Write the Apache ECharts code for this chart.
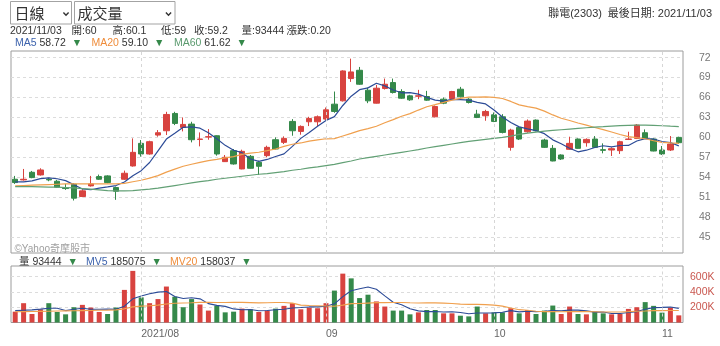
<!DOCTYPE html>
<html>
<head>
<meta charset="utf-8">
<title>聯電(2303) 日線</title>
<script src="https://cdn.jsdelivr.net/npm/echarts@6.0.0/dist/echarts.min.js"></script>
<style>
  html, body { margin: 0; padding: 0; background: #ffffff; }
  #chart { width: 720px; height: 346px; }
</style>
</head>
<body>
<div id="chart"></div>
<script>
// ---------------- DATA ----------------
const stockName = '聯電(2303)';
const periodLabel = '日線';
const panelLabel = '成交量';
const watermark = '©Yahoo奇摩股市';

const dates = [
  '2021/07/12','2021/07/13','2021/07/14','2021/07/15','2021/07/16','2021/07/19','2021/07/20','2021/07/21','2021/07/22','2021/07/23',
  '2021/07/26','2021/07/27','2021/07/28','2021/07/29','2021/07/30','2021/08/02','2021/08/03','2021/08/04','2021/08/05','2021/08/06',
  '2021/08/09','2021/08/10','2021/08/11','2021/08/12','2021/08/13','2021/08/16','2021/08/17','2021/08/18','2021/08/19','2021/08/20',
  '2021/08/23','2021/08/24','2021/08/25','2021/08/26','2021/08/27','2021/08/30','2021/08/31','2021/09/01','2021/09/02','2021/09/03',
  '2021/09/06','2021/09/07','2021/09/08','2021/09/09','2021/09/10','2021/09/13','2021/09/14','2021/09/15','2021/09/16','2021/09/17',
  '2021/09/22','2021/09/23','2021/09/24','2021/09/27','2021/09/28','2021/09/29','2021/09/30','2021/10/01','2021/10/04','2021/10/05',
  '2021/10/06','2021/10/07','2021/10/08','2021/10/12','2021/10/13','2021/10/14','2021/10/15','2021/10/18','2021/10/19','2021/10/20',
  '2021/10/21','2021/10/22','2021/10/25','2021/10/26','2021/10/27','2021/10/28','2021/10/29','2021/11/01','2021/11/02','2021/11/03'
];

const opens = [
  53.7, 53.6, 54.75, 54.35, 53.7, 53.4, 52.4, 52.95, 51.1, 52.7,
  54.1, 54.2, 52.45, 53.7, 55.7, 59.1, 57.5, 60.35, 61.0, 63.6,
  61.5, 62.0, 59.7, 60.05, 60.25, 56.35, 58.0, 55.25, 57.15, 56.25,
  57.25, 59.65, 59.25, 62.4, 60.9, 62.35, 62.35, 62.75, 65.0, 65.5,
  68.85, 70.1, 67.1, 65.15, 67.35, 68.25, 66.9, 66.25, 66.2, 66.15,
  63.1, 65.75, 65.85, 67.25, 65.75, 63.5, 63.25, 63.4, 63.1, 58.5,
  61.5, 60.85, 62.6, 59.6, 58.35, 57.35, 58.2, 59.75, 59.2, 59.75,
  58.15, 58.1, 58.0, 59.7, 59.85, 60.7, 59.75, 58.1, 58.1, 60
];
const closes = [
  53.2, 53.7, 53.95, 55.1, 53.6, 52.5, 52.3, 50.85, 51.95, 53.0,
  53.7, 53.2, 51.9, 54.6, 57.75, 57.5, 59.35, 60.7, 63.45, 62.1,
  61.95, 59.65, 59.75, 60.1, 57.5, 57.0, 56.0, 57.9, 55.35, 55.65,
  58.5, 58.25, 59.85, 61.0, 61.65, 62.85, 63.1, 64.15, 63.9, 70.0,
  69.85, 68.0, 65.5, 67.4, 68.0, 66.75, 65.9, 65.65, 66.25, 65.6,
  64.65, 65.15, 66.9, 66.1, 65.25, 63.0, 63.9, 62.4, 60.75, 61.1,
  59.75, 62.45, 61.0, 58.5, 56.45, 56.75, 59.1, 58.35, 59.7, 58.5,
  58.05, 58.3, 59.35, 59.75, 61.85, 59.85, 57.95, 57.5, 59.0, 59.2
];
const lows = [
  53.0, 53.5, 53.85, 54.25, 53.4, 52.4, 52.1, 50.5, 51.0, 52.6,
  53.6, 53.1, 50.6, 53.6, 55.6, 57.1, 57.4, 60.1, 60.35, 61.85,
  60.9, 59.25, 58.65, 59.65, 57.25, 56.3, 55.9, 55.2, 55.3, 54.35,
  57.0, 58.2, 59.0, 60.25, 60.4, 61.7, 61.7, 62.6, 63.7, 65.4,
  68.35, 67.9, 65.15, 65.1, 67.2, 66.6, 65.8, 65.5, 65.75, 65.5,
  63.0, 65.0, 65.7, 66.0, 65.1, 62.9, 62.5, 62.3, 60.6, 58.0,
  59.6, 60.7, 60.9, 58.4, 56.4, 56.6, 58.1, 58.3, 58.6, 58.4,
  57.6, 57.2, 57.5, 59.6, 59.75, 59.8, 57.9, 57.35, 57.95, 59
];
const highs = [
  54.2, 55.25, 54.95, 55.35, 53.9, 53.6, 53.0, 53.1, 52.2, 54.2,
  54.4, 54.3, 52.6, 55.0, 59.85, 59.6, 59.5, 61.1, 63.85, 63.85,
  63.0, 62.35, 60.75, 61.25, 60.3, 57.35, 58.25, 58.15, 57.35, 56.5,
  58.75, 60.0, 60.15, 62.75, 61.8, 63.1, 63.3, 64.5, 66.9, 70.1,
  71.85, 70.6, 67.5, 67.9, 68.85, 68.85, 67.25, 66.4, 67.15, 67.0,
  64.8, 66.0, 67.0, 67.6, 65.9, 64.15, 64.15, 63.75, 63.5, 61.3,
  61.6, 62.7, 62.7, 59.8, 58.85, 57.45, 60.1, 59.85, 59.85, 60.2,
  59.1, 58.5, 59.5, 60.85, 62.0, 61.2, 59.85, 58.7, 60.2, 60.1
];
const volumes = [
  142000, 253000, 111000, 173000, 253000, 138000, 107000, 200000, 231000, 196000,
  138000, 111000, 196000, 427000, 676000, 329000, 253000, 307000, 471000, 338000,
  200000, 307000, 236000, 156000, 222000, 133000, 142000, 182000, 173000, 138000,
  156000, 182000, 218000, 253000, 173000, 196000, 187000, 253000, 418000, 640000,
  578000, 320000, 364000, 276000, 209000, 156000, 156000, 107000, 133000, 164000,
  164000, 120000, 120000, 89000, 80000, 209000, 120000, 133000, 133000, 187000,
  120000, 164000, 111000, 156000, 222000, 111000, 209000, 111000, 107000, 142000,
  120000, 107000, 111000, 178000, 200000, 267000, 218000, 129000, 196000, 93444
];
const ma5 = [
  53.3, 53.3, 53.45, 53.8, 53.91, 53.77, 53.49, 52.87, 52.24, 52.12,
  52.36, 52.54, 52.75, 53.28, 54.23, 54.99, 56.22, 57.98, 59.75, 60.62,
  61.51, 61.57, 61.38, 60.71, 59.79, 58.8, 58.07, 57.7, 56.75, 56.38,
  56.68, 57.13, 57.52, 58.65, 59.85, 60.72, 61.69, 62.55, 63.13, 64.8,
  66.2, 67.18, 67.45, 68.15, 67.75, 67.13, 66.71, 66.74, 66.51, 66.03,
  65.61, 65.46, 65.71, 65.68, 65.61, 65.28, 65.03, 64.13, 63.06, 62.23,
  61.58, 61.29, 61.01, 60.56, 59.63, 59.03, 58.36, 57.83, 58.07, 58.48,
  58.74, 58.58, 58.78, 58.79, 59.46, 59.82, 59.75, 59.38, 59.23, 58.72
];
const ma20 = [
  52.7, 52.75, 52.8, 52.85, 52.9, 52.95, 53.0, 53.0, 53.0, 53.0,
  53.0, 53.0, 53.0, 53.08, 53.32, 53.55, 53.87, 54.25, 54.77, 55.22,
  55.66, 55.96, 56.25, 56.5, 56.69, 56.92, 57.1, 57.45, 57.62, 57.76,
  58.0, 58.25, 58.65, 58.97, 59.16, 59.43, 59.62, 59.79, 59.81, 60.21,
  60.6, 61.02, 61.31, 61.67, 62.2, 62.68, 63.18, 63.57, 64.11, 64.61,
  64.92, 65.26, 65.61, 65.87, 66.05, 66.06, 66.1, 66.01, 65.85, 65.41,
  64.9, 64.62, 64.4, 63.95, 63.38, 62.88, 62.54, 62.17, 61.84, 61.49,
  61.16, 60.81, 60.44, 60.12, 59.95, 59.79, 59.49, 59.25, 59.16, 59.10
];
const ma60 = [
  52.6, 52.6, 52.58, 52.55, 52.52, 52.5, 52.45, 52.4, 52.3, 52.2,
  52.1, 52.0, 51.95, 51.95, 52.0, 52.1, 52.2, 52.35, 52.55, 52.75,
  52.95, 53.15, 53.35, 53.5, 53.7, 53.85, 54.0, 54.15, 54.3, 54.45,
  54.55, 54.7, 54.85, 55.05, 55.2, 55.4, 55.55, 55.75, 55.95, 56.2,
  56.45, 56.75, 56.95, 57.15, 57.35, 57.55, 57.75, 57.95, 58.15, 58.4,
  58.6, 58.8, 59.0, 59.2, 59.4, 59.55, 59.7, 59.85, 60.0, 60.2,
  60.45, 60.65, 60.8, 60.95, 61.05, 61.15, 61.25, 61.35, 61.45, 61.55,
  61.62, 61.7, 61.78, 61.82, 61.85, 61.85, 61.82, 61.75, 61.68, 61.62
];
const mv5 = [
  155000, 160000, 165000, 175000, 186000, 186000, 156000, 174000, 186000, 174000,
  174000, 175000, 174000, 214000, 310000, 348000, 376000, 398000, 407000, 340000,
  314000, 325000, 310000, 247000, 224000, 211000, 178000, 167000, 170000, 154000,
  158000, 166000, 173000, 189000, 196000, 204000, 205000, 212000, 245000, 339000,
  415000, 442000, 464000, 436000, 349000, 265000, 232000, 181000, 152000, 143000,
  145000, 138000, 140000, 131000, 115000, 124000, 124000, 126000, 135000, 156000,
  139000, 147000, 143000, 148000, 155000, 153000, 162000, 162000, 152000, 136000,
  138000, 117000, 117000, 132000, 143000, 173000, 195000, 198000, 202000, 185075
];
const mv20 = [
  140000, 142000, 144000, 146000, 148000, 150000, 152000, 154000, 156000, 158000,
  160000, 162000, 165000, 179000, 205000, 214000, 219000, 227000, 243000, 252000,
  255000, 258000, 264000, 264000, 262000, 262000, 263000, 263000, 260000, 257000,
  258000, 261000, 262000, 254000, 228000, 222000, 219000, 216000, 213000, 228000,
  247000, 248000, 254000, 260000, 260000, 261000, 261000, 258000, 256000, 257000,
  257000, 254000, 249000, 241000, 237000, 237000, 234000, 228000, 214000, 191000,
  168000, 160000, 148000, 142000, 142000, 140000, 143000, 143000, 142000, 140000,
  138000, 138000, 137000, 142000, 148000, 150000, 155000, 155000, 158000, 158037
];

const priceTicks = [45, 48, 51, 54, 57, 60, 63, 66, 69, 72];
const volumeTicks = [200000, 400000, 600000];
const monthStarts = ['2021/08/02', '2021/09/01', '2021/10/01', '2021/11/01'];
const monthLabels = ['2021/08', '09', '10', '11'];

// ---------------- STYLE ----------------
const UP = '#d8433f';
const DOWN = '#35894a';
const C_MA5 = '#2c4b97';
const C_MA20 = '#f0a04e';
const C_MA60 = '#62a075';
const C_MA5_TXT = '#3d63ad';
const C_MA20_TXT = '#ef8c3a';
const C_MA60_TXT = '#5a9a6e';
const FONT = "'Liberation Sans','Noto Sans CJK TC',sans-serif";
const CJK = "'Noto Sans CJK TC','Liberation Sans',sans-serif";

const n = dates.length - 1;
const candleData = dates.map((d, i) => [opens[i], closes[i], lows[i], highs[i]]);
const volData = volumes.map((v, i) => ({
  value: v,
  itemStyle: { color: (i === 0 || closes[i] >= closes[i - 1]) ? UP : DOWN }
}));

function monthLine() {
  return {
    silent: true,
    symbol: ['none', 'none'],
    label: { show: false },
    lineStyle: { color: '#d6d6d6', type: [3, 3], width: 1 },
    data: monthStarts.map(d => ({ xAxis: d })),
    animation: false
  };
}

function txt(x, y, text, fill, size, align, family) {
  return {
    type: 'text', x: x, y: y, silent: true, z: 100,
    style: {
      text: text, fill: fill || '#333',
      font: (size || 11) + 'px ' + (family || FONT),
      align: align || 'left', verticalAlign: 'middle'
    }
  };
}
// legend group: coloured name, dark value, green down-arrow
function legendGroup(x, y, name, nameColor, value) {
  return {
    type: 'text', x: x, y: y, silent: true, z: 100,
    style: {
      text: '{n|' + name + '} {v|' + value + '} {a|▼}',
      font: '10.5px ' + FONT, align: 'left', verticalAlign: 'middle',
      rich: {
        n: { fill: nameColor, font: '10.5px ' + FONT },
        v: { fill: '#333', font: '10.5px ' + FONT },
        a: { fill: DOWN, font: '10.5px ' + FONT, padding: [0, 0, 0, 3] }
      }
    }
  };
}
function chevron(cx, cy) {
  return {
    type: 'polyline', silent: true, z: 100,
    shape: { points: [[cx - 2.6, cy - 1.6], [cx, cy + 1.2], [cx + 2.6, cy - 1.6]] },
    style: { stroke: '#333', lineWidth: 1.4, fill: null }
  };
}

const dayChange = (closes[n] - closes[n - 1]).toFixed(2);
const infoItems = [
  [10, dates[n]],
  [71.5, '開:' + opens[n]],
  [112.5, '高:' + highs[n]],
  [161, '低:' + lows[n]],
  [194, '收:' + closes[n]],
  [241.5, '量:' + volumes[n]],
  [286.5, '漲跌:' + dayChange]
];

const graphics = [
  { type: 'rect', silent: true, z: 90, shape: { x: 10.5, y: 1.5, width: 61, height: 22.5 }, style: { fill: '#fff', stroke: '#a3a3a3', lineWidth: 1 } },
  txt(14.5, 13, periodLabel, '#333', 15, 'left', CJK),
  chevron(66, 14),
  { type: 'rect', silent: true, z: 90, shape: { x: 74.5, y: 1.5, width: 100.5, height: 22.5 }, style: { fill: '#fff', stroke: '#a3a3a3', lineWidth: 1 } },
  txt(77.5, 13, panelLabel, '#333', 15, 'left', CJK),
  chevron(168.5, 14),
  txt(602, 13.5, stockName, '#333', 11, 'right'),
  txt(712, 13.5, '最後日期: ' + dates[n], '#333', 11, 'right'),
  txt(14.5, 249, watermark, '#a0a0a0', 10)
];
infoItems.forEach(it => graphics.push(txt(it[0], 31.5, it[1], '#333', 10.5)));

// MA legend row
graphics.push(legendGroup(15, 43.5, 'MA5', C_MA5_TXT, ma5[n].toFixed(2)));
graphics.push(legendGroup(91.5, 43.5, 'MA20', C_MA20_TXT, ma20[n].toFixed(2)));
graphics.push(legendGroup(174, 43.5, 'MA60', C_MA60_TXT, ma60[n].toFixed(2)));

// Volume legend row
graphics.push(legendGroup(19, 262, '量', '#333', String(volumes[n])));
graphics.push(legendGroup(86, 262, 'MV5', C_MA5_TXT, String(mv5[n])));
graphics.push(legendGroup(170, 262, 'MV20', C_MA20_TXT, String(mv20[n])));

const chart = echarts.init(document.getElementById('chart'), null, { renderer: 'canvas', width: 720, height: 346 });

const option = {
  animation: false,
  backgroundColor: '#ffffff',
  textStyle: { fontFamily: FONT },
  grid: [
    { left: 11, top: 51, width: 672, height: 202, show: true, borderColor: '#9c9c9c', borderWidth: 1, backgroundColor: 'transparent', outerBoundsMode: 'none', containLabel: false },
    { left: 11, top: 266, width: 672, height: 56.5, show: true, borderColor: '#9c9c9c', borderWidth: 1, backgroundColor: 'transparent', outerBoundsMode: 'none', containLabel: false }
  ],
  xAxis: [
    {
      type: 'category', gridIndex: 0, data: dates, boundaryGap: true,
      axisLine: { show: false }, axisTick: { show: false }, axisLabel: { show: false }, splitLine: { show: false }
    },
    {
      type: 'category', gridIndex: 1, data: dates, boundaryGap: true,
      axisLine: { show: false }, axisTick: { show: false }, splitLine: { show: false },
      axisLabel: {
        show: true,
        interval: (idx, val) => monthStarts.indexOf(val) >= 0,
        formatter: val => monthLabels[monthStarts.indexOf(val)],
        align: 'left', color: '#666', fontSize: 10.5, margin: 6, fontFamily: FONT
      }
    }
  ],
  yAxis: [
    {
      type: 'value', gridIndex: 0, position: 'right', min: 42.6, max: 73,
      axisLine: { show: false },
      axisTick: { show: false, customValues: priceTicks },
      axisLabel: { customValues: priceTicks, color: '#777', fontSize: 10.5, margin: 16, fontFamily: FONT },
      splitLine: { show: true, lineStyle: { color: '#dcdcdc', type: [3, 3], width: 1 } }
    },
    {
      type: 'value', gridIndex: 1, position: 'right', min: 0, max: 740000,
      axisLine: { show: false },
      axisTick: { show: false, customValues: volumeTicks },
      axisLabel: { customValues: volumeTicks, formatter: v => (v / 1000) + 'K', color: '#c9574f', fontSize: 10.5, margin: 7, fontFamily: FONT },
      splitLine: { show: true, lineStyle: { color: '#dcdcdc', type: [3, 3], width: 1 } }
    }
  ],
  series: [
    {
      name: 'K', type: 'candlestick', xAxisIndex: 0, yAxisIndex: 0, data: candleData, barWidth: 6,
      itemStyle: { color: UP, color0: DOWN, borderColor: UP, borderColor0: DOWN, borderWidth: 1 },
      markLine: monthLine()
    },
    { name: 'MA5', type: 'line', xAxisIndex: 0, yAxisIndex: 0, data: ma5, showSymbol: false, symbol: 'none', lineStyle: { color: C_MA5, width: 1.2 }, z: 3 },
    { name: 'MA20', type: 'line', xAxisIndex: 0, yAxisIndex: 0, data: ma20, showSymbol: false, symbol: 'none', lineStyle: { color: C_MA20, width: 1.2 }, z: 3 },
    { name: 'MA60', type: 'line', xAxisIndex: 0, yAxisIndex: 0, data: ma60, showSymbol: false, symbol: 'none', lineStyle: { color: C_MA60, width: 1.2 }, z: 3 },
    {
      name: '量', type: 'bar', xAxisIndex: 1, yAxisIndex: 1, data: volData, barWidth: 5,
      markLine: monthLine()
    },
    { name: 'MV5', type: 'line', xAxisIndex: 1, yAxisIndex: 1, data: mv5, showSymbol: false, symbol: 'none', lineStyle: { color: C_MA5, width: 1.1 }, z: 3 },
    { name: 'MV20', type: 'line', xAxisIndex: 1, yAxisIndex: 1, data: mv20, showSymbol: false, symbol: 'none', lineStyle: { color: C_MA20, width: 1.1 }, z: 3 }
  ],
  graphic: graphics
};
chart.setOption(option);
</script>
</body>
</html>
